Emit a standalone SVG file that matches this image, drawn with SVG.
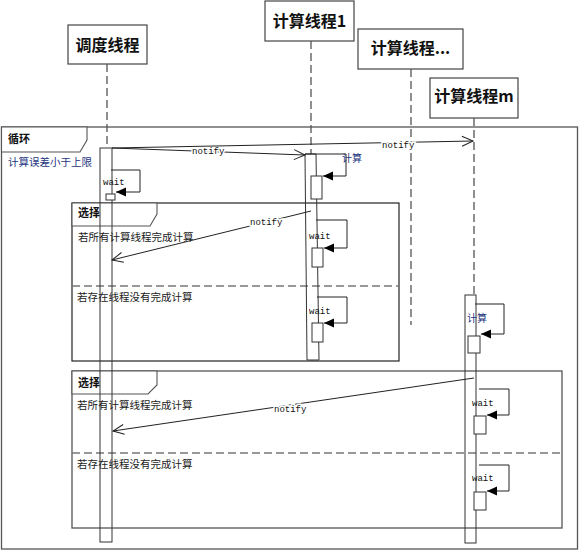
<svg xmlns="http://www.w3.org/2000/svg" width="582" height="551" viewBox="0 0 582 551">
<style>
.hdr{fill:#fff;stroke:#444;stroke-width:1.2}
.htxt{font-family:"Noto Sans CJK SC","Noto Sans",sans-serif;font-weight:bold;font-size:16px;fill:#111;text-anchor:middle}
.life{stroke:#555;stroke-width:1.3;stroke-dasharray:8,4;fill:none}
.bar{fill:none;stroke:#333;stroke-width:1}
.box{fill:#fff;stroke:#333;stroke-width:1}
.frame{fill:none;stroke:#555;stroke-width:1.3}
.frame2{fill:none;stroke:#222;stroke-width:1.2}
.tab{fill:#fff;stroke:#555;stroke-width:1.1}
.sep{stroke:#777;stroke-width:1.4;stroke-dasharray:8,4}
.ttl{font-family:"Noto Sans CJK SC",sans-serif;font-weight:bold;font-size:11px;fill:#111}
.cond{font-family:"Noto Sans CJK SC",sans-serif;font-size:10.5px;fill:#222}
.guard{font-family:"Noto Sans CJK SC",sans-serif;font-size:10.5px;fill:#1d3580}
.mono{font-family:"Liberation Mono",monospace;font-size:9px;fill:#111}
.calc{font-family:"Noto Sans CJK SC",sans-serif;font-size:10px;fill:#1d3580}
.msg{stroke:#222;stroke-width:1;fill:none}
.halo{stroke:#fff;stroke-width:3;paint-order:stroke}
</style>
<defs>
<marker id="open" viewBox="0 0 12 12" refX="11" refY="6" markerWidth="12" markerHeight="12" markerUnits="userSpaceOnUse" orient="auto" overflow="visible">
<path d="M0,1 L11,6 L0,11" fill="none" stroke="#222" stroke-width="1"/>
</marker>
<marker id="fill" viewBox="0 0 10 10" refX="10" refY="5" markerWidth="10" markerHeight="10" markerUnits="userSpaceOnUse" orient="auto" overflow="visible">
<path d="M0,0.5 L10,5 L0,9.5 z" fill="#000"/>
</marker>
</defs>
<rect width="582" height="551" fill="#fff"/>

<g id="loop-frame">
<rect class="frame" x="1.5" y="127" width="576" height="422"/>
<path class="tab" d="M1.5,127 H87 V140 L80,152 H1.5 Z"/>
<text class="ttl" x="8" y="143">循环</text>
<text class="guard" x="8" y="166">计算误差小于上限</text>
</g>

<g id="alt-frame-1">
<rect class="frame2" x="72" y="203" width="327" height="158"/>
<path class="tab" d="M72,203 H157 V214 L150,226 H72 Z"/>
<text class="ttl" x="78" y="217">选择</text>
<line class="sep" x1="72" y1="286" x2="399" y2="286"/>
</g>

<g id="alt-frame-2">
<rect class="frame" x="72" y="371" width="490" height="157"/>
<path class="tab" d="M72,371 H157 V385 L148,394 H72 Z"/>
<text class="ttl" x="78" y="387">选择</text>
<line class="sep" x1="72" y1="453" x2="562" y2="453"/>
</g>

<g id="scheduler">
<rect class="hdr" x="68" y="25" width="79" height="39"/>
<text class="htxt" x="107.5" y="51">调度线程</text>
<line class="life" x1="107" y1="64" x2="107" y2="148"/>
<rect class="bar" x="100" y="148" width="12" height="394"/>
<rect class="box" x="106" y="194" width="9" height="6"/>
</g>

<g id="worker-1">
<rect class="hdr" x="265" y="1" width="89" height="40"/>
<text class="htxt" x="309.5" y="27">计算线程1</text>
<line class="life" x1="311" y1="41" x2="311" y2="154"/>
<polygon class="bar" points="305,154 316,154 319,360 307,360"/>
<rect class="box" x="311" y="176" width="11" height="23"/>
<rect class="box" x="312" y="248" width="11" height="19"/>
<rect class="box" x="312" y="323" width="11" height="19"/>
</g>

<g id="worker-dots">
<rect class="hdr" x="358" y="29" width="105" height="40"/>
<text class="htxt" x="410.5" y="54">计算线程...</text>
<line class="life" x1="411" y1="69" x2="411" y2="325"/>
</g>

<g id="worker-m">
<rect class="hdr" x="430" y="78" width="88" height="40"/>
<text class="htxt" x="474" y="102">计算线程m</text>
<line class="life" x1="474" y1="118" x2="474" y2="295"/>
<rect class="bar" x="465" y="295" width="11" height="248"/>
<rect class="box" x="468" y="336" width="12" height="17"/>
<rect class="box" x="474" y="416" width="12" height="18"/>
<rect class="box" x="474" y="492" width="12" height="18"/>
</g>

<g id="guards">
<text class="cond" x="78" y="241">若所有计算线程完成计算</text>
<text class="cond" x="77" y="301">若存在线程没有完成计算</text>
<text class="cond" x="77" y="409">若所有计算线程完成计算</text>
<text class="cond" x="77" y="468">若存在线程没有完成计算</text>
</g>

<g id="connectors">
<line class="msg" x1="112" y1="148" x2="305" y2="155" marker-end="url(#open)"/>
<text class="mono halo" x="192" y="154">notify</text>
<line class="msg" x1="112" y1="148" x2="473" y2="141" marker-end="url(#open)"/>
<text class="mono halo" x="382" y="148">notify</text>

<polyline class="msg" points="111,170 140,170 140,192 116,192" marker-end="url(#fill)"/>
<text class="mono" x="103" y="185">wait</text>

<polyline class="msg" points="305,154 346,154 346,176 323,176" marker-end="url(#fill)"/>
<text class="calc" x="342" y="162">计算</text>

<polyline class="msg" points="316,220 347,220 347,248 324,248" marker-end="url(#fill)"/>
<text class="mono" x="309" y="239">wait</text>

<line class="msg" x1="311" y1="211" x2="112" y2="260" marker-end="url(#open)"/>
<text class="mono halo" x="250" y="225">notify</text>

<polyline class="msg" points="317,297 347,297 347,323 324,323" marker-end="url(#fill)"/>
<text class="mono" x="309" y="314">wait</text>

<polyline class="msg" points="475,304 504,304 504,334 481,334" marker-end="url(#fill)"/>
<text class="calc" x="467" y="322">计算</text>

<line class="msg" x1="474" y1="378" x2="113" y2="431" marker-end="url(#open)"/>
<text class="mono halo" x="274" y="412">notify</text>

<polyline class="msg" points="479,389 509,389 509,415 487,415" marker-end="url(#fill)"/>
<text class="mono" x="472" y="406">wait</text>

<polyline class="msg" points="479,465 509,465 509,491 487,491" marker-end="url(#fill)"/>
<text class="mono" x="472" y="481">wait</text>
</g>
</svg>
